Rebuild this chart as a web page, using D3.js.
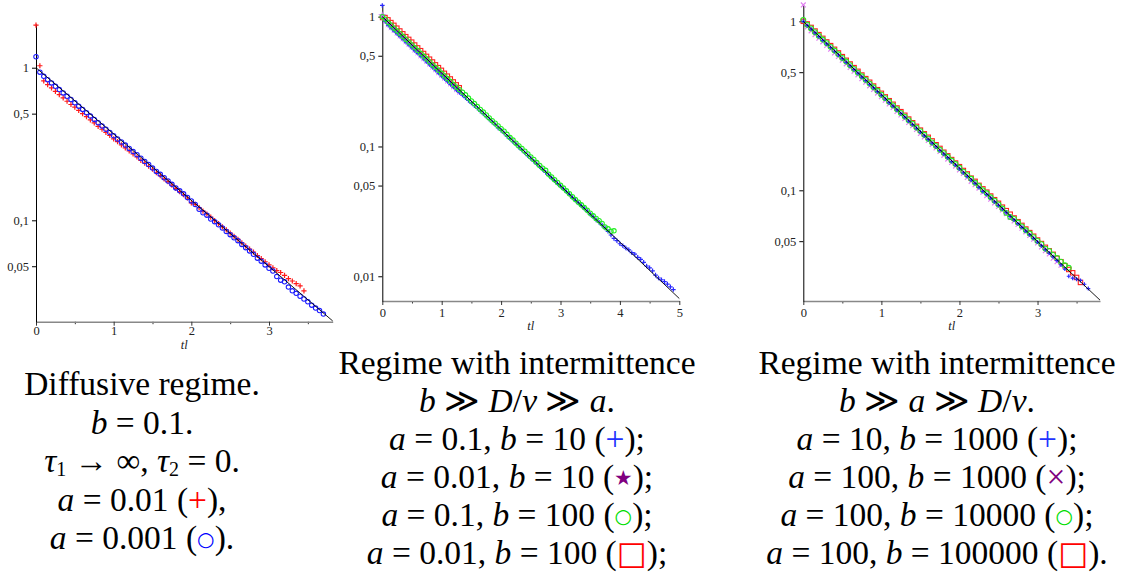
<!DOCTYPE html>
<html><head><meta charset="utf-8">
<script src="https://cdn.jsdelivr.net/npm/d3@7"></script>
<style>body{margin:0;background:#fff} svg{display:block} .serif{font-family:"Liberation Serif","DejaVu Serif","Noto Serif",serif}</style>
</head><body><svg id="c" width="1138" height="581"></svg>
<script>
// ---------- DATA ----------
const T = [0,0.05,0.1,0.15,0.2,0.25,0.3,0.35,0.4,0.45,0.5,0.55,0.6,0.65,0.7,0.75,0.8,0.85,0.9,0.95,1,1.05,1.1,1.15,1.2,1.25,1.3,1.35,1.4,1.45,1.5,1.55,1.6,1.65,1.7,1.75,1.8,1.85,1.9,1.95,2,2.05,2.1,2.15,2.2,2.25,2.3,2.35,2.4,2.45,2.5,2.55,2.6,2.65,2.7,2.75,2.8,2.85,2.9,2.95,3,3.05,3.1,3.15,3.2,3.25,3.3,3.35,3.4,3.45,3.5,3.55,3.6,3.65,3.7,3.75,3.8,3.85,3.9,3.95,4,4.05,4.1,4.15,4.2,4.25,4.3,4.35,4.4,4.45,4.5,4.55,4.6,4.65,4.7,4.75,4.8,4.85,4.9];

// Panel 1: diffusive regime
const p1_a001 = [1.9,1.03,0.82,0.775,0.737,0.70,0.667,0.634,0.603,0.574,0.552,0.525,0.5,0.478,0.455,0.435,0.413,0.395,0.377,0.36,0.342,0.328,0.312,0.298,0.285,0.272,0.26,0.247,0.237,0.226,0.216,0.205,0.196,0.187,0.179,0.17,0.162,0.154,0.147,0.14,0.13,0.127,0.121,0.115,0.11,0.105,0.0995,0.095,0.0905,0.0865,0.0825,0.0785,0.075,0.0712,0.0678,0.0648,0.0618,0.0588,0.056,0.0535,0.051,0.0488,0.0468,0.0455,0.0435,0.0415,0.04,0.0385,0.0372,0.0345];
const p1_a0001 = [1.18,0.935,0.878,0.835,0.795,0.756,0.719,0.684,0.65,0.619,0.589,0.56,0.533,0.507,0.482,0.458,0.436,0.415,0.395,0.376,0.358,0.341,0.326,0.311,0.296,0.282,0.269,0.255,0.243,0.232,0.22,0.209,0.2,0.19,0.181,0.172,0.163,0.156,0.149,0.141,0.134,0.127,0.118,0.112,0.108,0.102,0.098,0.0935,0.089,0.0845,0.0805,0.0768,0.0735,0.0695,0.0662,0.063,0.0598,0.0565,0.054,0.051,0.0485,0.0465,0.0428,0.0405,0.0395,0.0365,0.0345,0.0332,0.0318,0.0305,0.0292,0.0278,0.0266,0.0256,0.0243];

// Panel 2: intermittence b >> D/v >> a
const p2_a01_b10 = [1.22,0.92,0.86,0.818,0.778,0.74,0.704,0.67,0.637,0.606,0.577,0.548,0.522,0.496,0.472,0.449,0.427,0.406,0.387,0.368,0.35,0.333,0.317,0.301,0.287,0.273,0.261,0.249,0.238,0.226,0.216,0.206,0.197,0.187,0.179,0.17,0.162,0.154,0.147,0.139,0.133,0.127,0.12,0.115,0.109,0.104,0.0985,0.094,0.0895,0.085,0.081,0.077,0.0735,0.0698,0.0665,0.0632,0.0602,0.0572,0.0545,0.0518,0.0495,0.0472,0.0448,0.0428,0.0405,0.0385,0.0368,0.035,0.0335,0.0318,0.0301,0.0288,0.0272,0.026,0.0248,0.0236,0.0222,0.0208,0.0196,0.0188,0.0178,0.0172,0.0165,0.016,0.0152,0.0148,0.014,0.0135,0.0128,0.012,0.0116,0.011,0.0102,0.0097,0.0094,0.0091,0.0087,0.0083,0.0079];
const p2_a001_b10 = [1.02,0.93,0.88,0.835,0.795,0.756,0.72,0.684,0.65,0.619,0.589,0.56,0.533,0.506,0.482,0.458,0.436,0.414,0.395,0.375,0.357,0.34,0.323,0.307,0.292,0.278,0.265];
const p2_a01_b100 = [1.0,0.955,0.9,0.86,0.815,0.775,0.74,0.702,0.668,0.635,0.605,0.575,0.548,0.52,0.495,0.471,0.448,0.425,0.405,0.386,0.366,0.349,0.332,0.316,0.3,0.286,0.274,0.262,0.25,0.236,0.224,0.214,0.203,0.193,0.184,0.175,0.166,0.158,0.151,0.144,0.137,0.131,0.124,0.117,0.112,0.106,0.101,0.0965,0.092,0.0875,0.083,0.0795,0.0752,0.0715,0.068,0.0655,0.0612,0.0582,0.0555,0.0528,0.0502,0.0478,0.0455,0.0432,0.041,0.039,0.0372,0.0355,0.0338,0.0322,0.0306,0.0292,0.0279,0.0268,0.0255,0.024,0.0232,0.0222,0.0224];
const p2_a001_b100 = [0.98,0.99,0.95,0.905,0.862,0.82,0.78,0.742,0.705,0.672,0.64,0.608,0.578,0.55,0.523,0.497,0.473,0.45,0.428,0.407,0.388,0.368,0.35,0.333,0.316,0.3,0.285];

// Panel 3: intermittence b >> a >> D/v
const p3_a10_b1e3 = [1.0,0.945,0.9,0.855,0.812,0.772,0.735,0.7,0.665,0.632,0.602,0.572,0.545,0.518,0.493,0.468,0.446,0.424,0.404,0.384,0.365,0.347,0.33,0.315,0.299,0.285,0.271,0.257,0.245,0.233,0.221,0.21,0.2,0.19,0.181,0.172,0.164,0.156,0.148,0.141,0.134,0.127,0.121,0.115,0.11,0.104,0.0985,0.0945,0.09,0.0855,0.0815,0.0775,0.0738,0.07,0.0668,0.0635,0.0604,0.0574,0.0546,0.052,0.0494,0.047,0.0446,0.0425,0.0404,0.0384,0.0362,0.0342,0.031,0.0302,0.0298,0.0293,0.0278,0.0262];
const p3_a100_b1e3 = [1.25,0.925,0.878,0.835,0.795,0.756,0.719,0.684,0.65,0.619,0.589,0.56,0.533,0.507,0.482,0.458,0.436,0.415,0.395,0.376,0.358,0.341,0.324,0.309,0.293,0.279,0.266,0.252,0.241,0.229,0.217,0.207,0.197,0.187,0.178,0.17,0.161,0.153,0.146,0.139,0.132,0.126,0.119,0.113,0.108,0.103,0.0975,0.093,0.0885,0.0842,0.0802,0.0765,0.0728,0.0692,0.0658,0.0628,0.0596,0.0568,0.054,0.0514,0.0488,0.0462,0.0439,0.042,0.0396,0.0378,0.036];
const p3_a100_b1e4 = [1.02,0.955,0.908,0.862,0.82,0.78,0.742,0.706,0.672,0.638,0.607,0.578,0.55,0.523,0.497,0.473,0.45,0.428,0.407,0.388,0.368,0.351,0.334,0.318,0.302,0.287,0.273,0.26,0.248,0.235,0.224,0.213,0.202,0.192,0.183,0.174,0.166,0.158,0.15,0.143,0.136,0.129,0.123,0.117,0.111,0.106,0.1,0.096,0.091,0.0868,0.0825,0.078,0.0735,0.0695,0.0678,0.0645,0.0612,0.058,0.0555,0.0528,0.0502,0.048,0.0452,0.0438,0.0415,0.0398,0.0378,0.036,0.0348];
const p3_a100_b1e5 = [1.0,0.965,0.92,0.876,0.834,0.793,0.755,0.718,0.683,0.65,0.618,0.588,0.559,0.532,0.506,0.481,0.458,0.436,0.414,0.394,0.375,0.357,0.339,0.323,0.307,0.292,0.278,0.264,0.251,0.239,0.227,0.216,0.206,0.196,0.186,0.177,0.168,0.16,0.152,0.145,0.138,0.131,0.125,0.118,0.113,0.107,0.102,0.0975,0.0925,0.088,0.0838,0.0795,0.0758,0.0722,0.0686,0.0652,0.062,0.059,0.0562,0.0535,0.0508,0.0484,0.046,0.0438,0.0418,0.0396,0.0378,0.0358,0.034,0.0325,0.0305,0.0285];

// theoretical curve endpoints (exp(-tl)), straight on log axis
const theory1 = [[0, 1], [3.82, 0.0219]];
const theory2 = [[0, 1], [5, 0.00674]];
const theory3 = [[0, 1], [3.8, 0.0224]];

// tick labels
const xTicks1 = [0, 1, 2, 3], xMinor1 = [0.5, 1.5, 2.5, 3.5];
const xTicks2 = [0, 1, 2, 3, 4, 5], xMinor2 = [0.5, 1.5, 2.5, 3.5, 4.5];
const xTicks3 = [0, 1, 2, 3], xMinor3 = [0.5, 1.5, 2.5, 3.5];
const yTicks1 = [1, 0.5, 0.1, 0.05];
const yTicks2 = [1, 0.5, 0.1, 0.05, 0.01];
const yTicks3 = [1, 0.5, 0.1, 0.05];
const xLabel = "tl";

// captions: [text, kind]; kind: r roman, i italic, s subscript, or a marker key
const caption1 = [
  [["Diffusive regime.", "r"]],
  [["b", "i"], [" = 0.1.", "r"]],
  [["τ", "i"], ["1", "s"], [" → ∞, ", "r"], ["τ", "i"], ["2", "s"], [" = 0.", "r"]],
  [["a", "i"], [" = 0.01 (", "r"], ["+", "plusR"], ["),", "r"]],
  [["a", "i"], [" = 0.001 (", "r"], ["○", "circB"], [").", "r"]]
];
const caption2 = [
  [["Regime with intermittence", "r"]],
  [["b", "i"], [" ≫ ", "r"], ["D", "i"], ["/", "r"], ["v", "i"], [" ≫ ", "r"], ["a", "i"], [".", "r"]],
  [["a", "i"], [" = 0.1, ", "r"], ["b", "i"], [" = 10 (", "r"], ["+", "plusB"], [");", "r"]],
  [["a", "i"], [" = 0.01, ", "r"], ["b", "i"], [" = 10 (", "r"], ["★", "starP"], [");", "r"]],
  [["a", "i"], [" = 0.1, ", "r"], ["b", "i"], [" = 100 (", "r"], ["○", "circG"], [");", "r"]],
  [["a", "i"], [" = 0.01, ", "r"], ["b", "i"], [" = 100 (", "r"], ["□", "sqR"], [");", "r"]]
];
const caption3 = [
  [["Regime with intermittence", "r"]],
  [["b", "i"], [" ≫ ", "r"], ["a", "i"], [" ≫ ", "r"], ["D", "i"], ["/", "r"], ["v", "i"], [".", "r"]],
  [["a", "i"], [" = 10, ", "r"], ["b", "i"], [" = 1000 (", "r"], ["+", "plusB"], [");", "r"]],
  [["a", "i"], [" = 100, ", "r"], ["b", "i"], [" = 1000 (", "r"], ["×", "crossP"], [");", "r"]],
  [["a", "i"], [" = 100, ", "r"], ["b", "i"], [" = 10000 (", "r"], ["○", "circG"], [");", "r"]],
  [["a", "i"], [" = 100, ", "r"], ["b", "i"], [" = 100000 (", "r"], ["□", "sqR"], [").", "r"]]
];

// ---------- STYLE / LAYOUT ----------
const SYM_FONT = '"DejaVu Sans", sans-serif';
const legendGlyph = {
  plusR:  {color: "#ff0000", size: "1em"},
  plusB:  {color: "#2233ff", size: "1em"},
  circB:  {color: "#0000ff", size: "0.6em", font: SYM_FONT, raise: 3},
  circG:  {color: "#00dd00", size: "0.6em", font: SYM_FONT, raise: 3},
  starP:  {color: "#800080", size: "0.62em", font: SYM_FONT, raise: 3},
  crossP: {color: "#800080", size: "1em"},
  sqR:    {color: "#ff0000", size: "0.95em", font: SYM_FONT}
};
const CAP_SIZE = 33.5;

const svg = d3.select("#c");

function marker(g, kind, color, s) {
  if (kind === "plus") return g.append("path").attr("d", `M${-s},0H${s}M0,${-s}V${s}`).attr("stroke", color).attr("stroke-width", 1.2).attr("fill", "none");
  if (kind === "cross") return g.append("path").attr("d", `M${-s},${-s}L${s},${s}M${-s},${s}L${s},${-s}`).attr("stroke", color).attr("stroke-width", 1.2).attr("fill", "none");
  if (kind === "circle") return g.append("circle").attr("r", s).attr("stroke", color).attr("stroke-width", 1.1).attr("fill", "none");
  if (kind === "square") return g.append("rect").attr("x", -s).attr("y", -s).attr("width", 2 * s).attr("height", 2 * s).attr("stroke", color).attr("stroke-width", 1.1).attr("fill", "none");
  if (kind === "star") return g.append("path").attr("d", d3.symbol(d3.symbolStar, s * s * 3)()).attr("fill", color);
}

function drawPanel(p) {
  const x = d3.scaleLinear().domain(p.xDomain).range(p.xRange);
  const y = d3.scaleLog().domain(p.yDomain).range(p.yRange);
  const g = svg.append("g").attr("class", "serif");
  const y0 = p.yRange[0];

  const xm = g.append("g").attr("transform", `translate(0,${y0})`)
    .call(d3.axisBottom(x).tickValues(p.xMinor).tickSize(2.5).tickFormat(""));
  xm.select(".domain").remove();
  xm.selectAll(".tick line").attr("stroke", "#333");
  const xa = g.append("g").attr("transform", `translate(0,${y0})`)
    .call(d3.axisBottom(x).tickValues(p.xTicks).tickSize(4).tickSizeOuter(0).tickPadding(p.xPad).tickFormat(d3.format("d")));
  xa.attr("font-family", null);
  xa.select(".domain").attr("stroke", "#888").attr("stroke-width", 1.6);
  xa.selectAll(".tick line").attr("stroke", "#333");
  xa.selectAll("text").attr("font-size", 12.5).attr("fill", "#222");

  const ya = g.append("g").attr("transform", `translate(${p.xRange[0]},0)`)
    .call(d3.axisLeft(y).tickValues(p.yTicks).tickSize(4).tickSizeOuter(0).tickPadding(3)
      .tickFormat(d => String(d).replace(".", ",")));
  ya.attr("font-family", null);
  ya.select(".domain").attr("stroke", "#000").attr("stroke-width", 1);
  ya.selectAll(".tick line").attr("stroke", "#000");
  ya.selectAll("text").attr("font-size", 12.5).attr("fill", "#222");

  g.append("text").attr("x", (p.xRange[0] + p.xRange[1]) / 2).attr("y", p.xLabelY)
    .attr("text-anchor", "middle").attr("font-style", "italic")
    .attr("font-size", 12.5).attr("fill", "#222").text(xLabel);

  p.series.forEach(s => {
    const sg = g.append("g");
    s.values.forEach((v, i) => {
      const m = sg.append("g").attr("transform", `translate(${x(T[i])},${y(v)})`);
      marker(m, s.kind, s.color, s.size);
    });
  });

  g.append("path").datum(p.theory)
    .attr("d", d3.line().x(d => x(d[0])).y(d => y(d[1])))
    .attr("stroke", "#000").attr("stroke-width", 0.9).attr("fill", "none");

  // caption
  p.caption.forEach((line, li) => {
    const t = g.append("text").attr("x", p.capX).attr("y", p.capY + li * p.capStep)
      .attr("text-anchor", "middle").attr("font-size", CAP_SIZE).attr("fill", "#000");
    let pending = 0;
    line.forEach(([txt, kind]) => {
      const ts = t.append("tspan").text(txt);
      let dy = -pending; pending = 0;
      if (kind === "i") ts.attr("font-style", "italic");
      else if (kind === "s") { ts.attr("font-size", 20); dy += 4; pending = 4; }
      else if (legendGlyph[kind]) {
        const L = legendGlyph[kind];
        ts.attr("fill", L.color).attr("font-size", L.size);
        if (L.font) ts.style("font-family", L.font);
        if (L.raise) { dy -= L.raise; pending = -L.raise; }
      }
      if (dy !== 0) ts.attr("dy", dy);
    });
  });
}

drawPanel({
  xDomain: [0, 3.82], xRange: [36, 332.7],
  yDomain: [0.02165, 1.934], yRange: [321.7, 24],
  xTicks: xTicks1, xMinor: xMinor1, yTicks: yTicks1, xPad: 0, xLabelY: 349,
  theory: theory1,
  series: [
    {values: p1_a001, kind: "plus", color: "#ff1a1a", size: 2.6},
    {values: p1_a0001, kind: "circle", color: "#1a1aff", size: 2.2}
  ],
  caption: caption1, capX: 142, capY: 395, capStep: 38.5
});
drawPanel({
  xDomain: [0, 5], xRange: [382.3, 679.3],
  yDomain: [0.00645, 1.23], yRange: [301, 5],
  xTicks: xTicks2, xMinor: xMinor2, yTicks: yTicks2, xPad: 3.5, xLabelY: 330,
  theory: theory2,
  series: [
    {values: p2_a001_b100, kind: "square", color: "#ff2020", size: 1.9},
    {values: p2_a001_b10, kind: "star", color: "#c070f0", size: 2.7},
    {values: p2_a01_b10, kind: "plus", color: "#2a2aff", size: 2.3},
    {values: p2_a01_b100, kind: "circle", color: "#22ee22", size: 2.2}
  ],
  caption: caption2, capX: 517, capY: 374, capStep: 38
});
drawPanel({
  xDomain: [0, 3.8], xRange: [803.3, 1100],
  yDomain: [0.02213, 1.249], yRange: [301, 5],
  xTicks: xTicks3, xMinor: xMinor3, yTicks: yTicks3, xPad: 3.5, xLabelY: 330,
  theory: theory3,
  series: [
    {values: p3_a100_b1e5, kind: "square", color: "#ff2020", size: 2.2},
    {values: p3_a100_b1e3, kind: "cross", color: "#e080f0", size: 2.4},
    {values: p3_a100_b1e4, kind: "circle", color: "#22ee22", size: 2.4},
    {values: p3_a10_b1e3, kind: "plus", color: "#2a2aff", size: 2.0}
  ],
  caption: caption3, capX: 937, capY: 374, capStep: 38
});
</script>
</body></html>
